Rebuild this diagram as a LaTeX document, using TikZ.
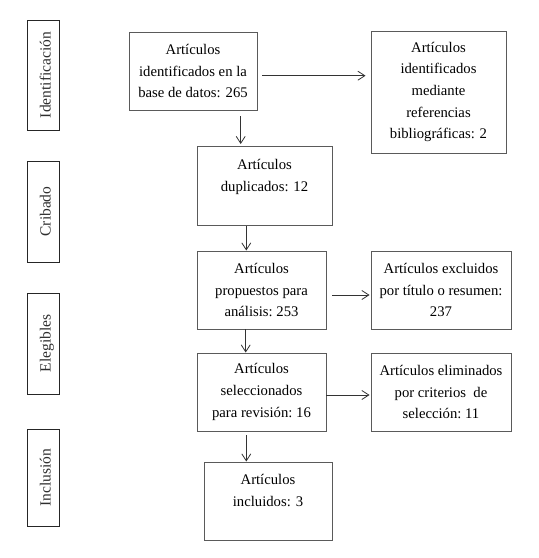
\documentclass[tikz,border=0pt]{standalone}
\usepackage{fontspec}
\setmainfont{Liberation Serif}
\usetikzlibrary{arrows.meta,positioning,calc}
\definecolor{marco}{HTML}{5A5A5A}
\definecolor{trazo}{HTML}{333333}
\definecolor{etiq}{HTML}{2E2E2E}

\begin{document}
\begin{tikzpicture}[x=1pt,y=-1pt,
    caja/.style={draw=marco,line width=0.9pt,inner sep=0pt,align=center,font=\fontsize{14.7}{21.7}\selectfont},
    etapa/.style={draw=black!85,line width=0.9pt,rotate=90,minimum height=32pt,inner sep=0pt,
      text height=15pt,text depth=0pt,text=etiq,font=\fontsize{15.5}{18}\selectfont},
    flecha/.style={draw=trazo,line width=0.8pt,-{Straight Barb[length=7pt,width=9pt]}}]
    \useasboundingbox (0,0) rectangle (539,558);
    % etapas
    \node[etapa,minimum width=110pt] (ident) at (43,75){Identificación};
    \node[etapa,minimum width=101pt] (crib) at (43,211.5){Cribado};
    \node[etapa,minimum width=101pt] (eleg) at (43,343.5){Elegibles};
    \node[etapa,minimum width=97pt] (incl) at (43,477.5){Inclusión};
    % cajas
    \node[caja,minimum width=128pt,minimum height=78pt] (base) at (193,71){Artículos\\identificados en la\\base de datos: 265};
    \node[caja,minimum width=135pt,minimum height=122pt] (refs) at (438.5,92){Artículos\\identificados\\mediante\\referencias\\bibliográficas: 2};
    \node[caja,minimum width=135pt,minimum height=79pt] (dupl) at (264.5,186){Artículos\\duplicados: 12\\\mbox{}};
    \node[caja,minimum width=129pt,minimum height=78pt] (prop) at (261.5,290){Artículos\\propuestos para\\análisis:\ 253};
    \node[caja,minimum width=140pt,minimum height=78pt] (excl) at (441,290){Artículos excluidos\\por título o resumen:\\237};
    \node[caja,minimum width=129pt,minimum height=78pt] (sele) at (261.5,392){Artículos\\seleccionados\\para revisión:\ 16};
    \node[caja,minimum width=140pt,minimum height=78pt] (elim) at (441,392){Artículos eliminados\\por criterios\ \ de\\selección:\ 11};
    \node[caja,minimum width=128pt,minimum height=78pt] (inclu) at (268,501){Artículos\\incluidos: 3\\\mbox{}};
    % flechas
    \draw[flecha,shorten <=6pt,shorten >=2pt] ([xshift=47.7pt]base.south) -- ([xshift=47.7pt]base.south |- dupl.north);
    \draw[flecha,shorten <=5pt,shorten >=5pt] ([yshift=-4.7pt]base.east) -- ([yshift=-4.7pt]base.east -| refs.west);
    \draw[flecha] ([xshift=-18.2pt]dupl.south) -- ([xshift=-18.2pt]dupl.south |- prop.north);
    \draw[flecha] ([xshift=-15.8pt]prop.south) -- ([xshift=-15.8pt]prop.south |- sele.north);
    \draw[flecha,shorten <=4pt] ([xshift=-15.2pt]sele.south) -- ([xshift=-15.2pt]sele.south |- inclu.north);
    \draw[flecha,shorten <=5.7pt,shorten >=1pt] ([yshift=-5pt]prop.east) -- ([yshift=-5pt]prop.east -| excl.west);
    \draw[flecha,shorten >=1pt] ([yshift=-3pt]sele.east) -- ([yshift=-3pt]sele.east -| elim.west);
\end{tikzpicture}
\end{document}
